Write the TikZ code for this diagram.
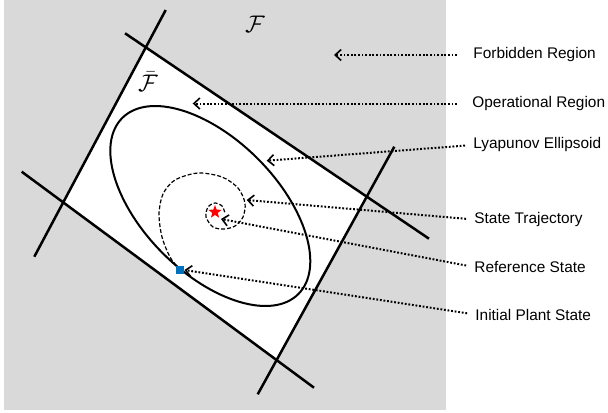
\documentclass[tikz,border=0pt]{standalone}
\usepackage{fontspec}
\setmainfont{Liberation Sans}
\usetikzlibrary{arrows.meta, shapes.geometric}

\definecolor{forbidden}{RGB}{217,217,217}
\definecolor{plantblue}{RGB}{0,114,189}

\begin{document}
\begin{tikzpicture}[
        x=0.5pt, y=-0.5pt,
        boundary/.style={line width=1.25pt},
        lyap/.style={line width=1pt},
        traj/.style={line width=0.6pt, dash pattern=on 2pt off 1pt},
        tag/.style={anchor=west, inner sep=0pt, font=\fontsize{7.7}{9.5}\selectfont},
        pointer/.style={-{Straight Barb[length=3pt, width=5.5pt, line width=0.8pt]}, line width=1pt, dash pattern=on 0.9pt off 0.9pt, shorten <=4pt},
        refstar/.style={star, star points=5, star point ratio=2.4, fill=red, minimum size=7pt, inner sep=0pt},
        plant/.style={fill=plantblue, minimum size=4pt, inner sep=0pt}
    ]
        \useasboundingbox (0,0) rectangle (608,412);
        \fill[forbidden] (4,0) rectangle (445.7,410);

        % constraint lines
        \coordinate (a1) at (165.7,10);   \coordinate (a2) at (34.3,256.7);
        \coordinate (b1) at (125,33.3);   \coordinate (b2) at (429,238.7);
        \coordinate (c1) at (394.3,146.7); \coordinate (c2) at (257.7,394.3);
        \coordinate (d1) at (21.7,171.7); \coordinate (d2) at (314,387.7);

        \fill[white] (intersection of a1--a2 and b1--b2) -- (intersection of b1--b2 and c1--c2)
            -- (intersection of c1--c2 and d1--d2) -- (intersection of d1--d2 and a1--a2) -- cycle;

        \draw[boundary] (a1) -- (a2);
        \draw[boundary] (b1) -- (b2);
        \draw[boundary] (c1) -- (c2);
        \draw[boundary] (d1) -- (d2);

        \node[font=\large] (set_f) at (255,24) {$\mathcal{F}$};
        \node[font=\large] (set_fbar) at (148,82) {$\bar{\mathcal{F}}$};

        \coordinate (ctr) at (210.3,206);
        \draw[lyap, rotate around={-45:(ctr)}] (ctr) ellipse [x radius=124.5, y radius=67];

        \draw[traj] plot[smooth] coordinates {(180,270) (170,257) (162,237) (159,214) (163,194) (175,180) (198,173) (222,177) (238,188) (245,203) (243,217) (235,226) (224,229) (213,227) (206,217) (208,207) (215,203) (222,206) (225,213)};

        \node[refstar] (ref) at (215,212) {};
        \node[plant] (init) at (180,270) {};

        \node[tag] (forb_lbl) at (473,55) {Forbidden Region};
        \node[tag] (oper_lbl) at (472,103.5) {Operational Region};
        \node[tag] (lyap_lbl) at (473,145) {Lyapunov Ellipsoid};
        \node[tag] (traj_lbl) at (474,219.5) {State Trajectory};
        \node[tag] (ref_lbl) at (474,267) {Reference State};
        \node[tag] (init_lbl) at (475,314.5) {Initial Plant State};

        \coordinate (forb_pt) at (334,55);
        \coordinate (oper_pt) at (192.7,103.5);
        \coordinate (lyap_pt) at (266.7,160.7);
        \coordinate (traj_pt) at (246.7,200);
        \coordinate (ref_pt) at (221,219);

        \draw[pointer, shorten <=8pt] (forb_lbl.west) -- (forb_pt);
        \draw[pointer, shorten <=7.5pt] (oper_lbl.west) -- (oper_pt);
        \draw[pointer] (lyap_lbl.west) -- (lyap_pt);
        \draw[pointer] (traj_lbl.west) -- (traj_pt);
        \draw[pointer] (ref_lbl.west) -- (ref_pt);
        \draw[pointer] (init_lbl.west) -- (init.east);

    \end{tikzpicture}
\end{document}
